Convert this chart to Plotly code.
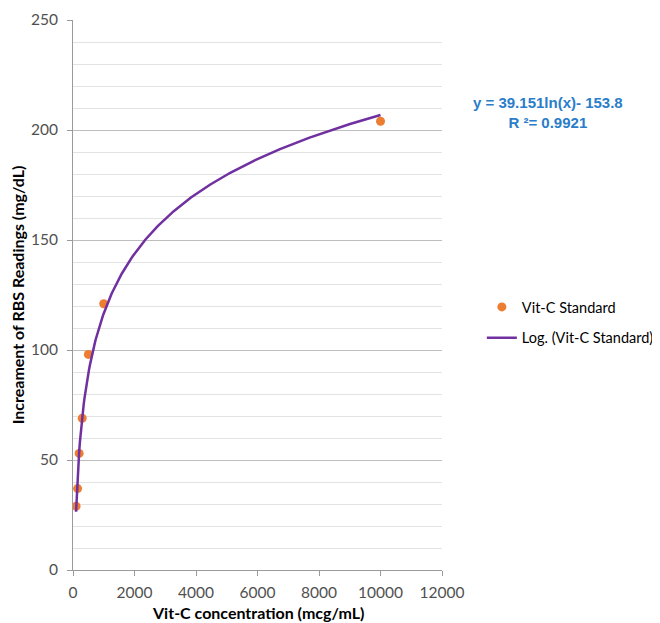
import numpy as np
import plotly.graph_objects as go

# Data
conc = [100, 150, 200, 300, 500, 1000, 10000]          # Vit-C concentration (mcg/mL)
increment = [29, 37, 53, 69, 98, 121, 204]            # Increament of RBS readings (mg/dL)

# Logarithmic trendline coefficients shown on the chart
slope = 39.151
intercept = -153.8
r_squared = 0.9921

x_ticks = [0, 2000, 4000, 6000, 8000, 10000, 12000]
y_ticks = [0, 50, 100, 150, 200, 250]

xt = np.linspace(min(conc), max(conc), 400)
yt = slope * np.log(xt) + intercept

fig = go.Figure()
fig.add_trace(go.Scatter(
    x=conc, y=increment, mode="markers", name="Vit-C Standard", legendgroup="a",
    marker=dict(color="#ED7D31", size=9),
))
fig.add_trace(go.Scatter(
    x=xt, y=yt, mode="lines", name="Log. (Vit-C Standard)", legendgroup="b",
    line=dict(color="#7030A0", width=2.5),
))

tick_font = dict(family="Lato, Liberation Sans, sans-serif", size=15.5, color="#505050")
title_font = dict(family="Lato, Liberation Sans, sans-serif", size=16, color="#000000")

fig.update_layout(
    width=652, height=615,
    margin=dict(l=65, r=218, t=12, b=53, autoexpand=False),
    paper_bgcolor="white", plot_bgcolor="white",
    showlegend=True,
    legend=dict(x=1.108, y=0.45, xanchor="left", yanchor="middle",
                font=dict(family="Lato, Liberation Sans, sans-serif", size=14.5, color="#000000"),
                traceorder="grouped", tracegroupgap=9, bgcolor="rgba(0,0,0,0)"),
    annotations=[
        dict(
            xref="paper", yref="paper", x=1.287, y=0.832, xanchor="center", yanchor="middle",
            text=f"<b>y = {slope}ln(x)- {abs(intercept)}<br>R ²= {r_squared}</b>",
            showarrow=False, align="center",
            font=dict(family="Liberation Sans, Arial, sans-serif", size=15, color="#2A7DC9"),
        ),
        dict(  # x-axis title
            xref="paper", yref="paper", x=0.5, y=-0.078, xanchor="center", yanchor="middle",
            text="<b>Vit-C concentration (mcg/mL)</b>", showarrow=False, font=title_font,
        ),
    ],
)

fig.update_xaxes(
    range=[0, 12000], tickvals=x_ticks, ticktext=[str(v) for v in x_ticks],
    showgrid=False, zeroline=False, automargin=False,
    showline=True, linecolor="#9A9A9A", linewidth=1,
    ticks="outside", ticklen=5, tickcolor="#9A9A9A", ticklabelstandoff=3,
    tickfont=tick_font,
)
fig.update_yaxes(
    range=[0, 250], tickvals=y_ticks, ticktext=[str(v) for v in y_ticks],
    showgrid=True, gridcolor="#BEBEBE", gridwidth=1, zeroline=False, automargin=False,
    showline=True, linecolor="#9A9A9A", linewidth=1,
    ticks="outside", ticklen=5, tickcolor="#9A9A9A", ticklabelstandoff=6,
    tickfont=tick_font,
    minor=dict(dtick=10, showgrid=True, gridcolor="#E3E3E3", gridwidth=1),
    title=dict(text="<b>Increament of RBS Readings (mg/dL)</b>", font=title_font, standoff=6),
)

fig.write_html("out.html")
